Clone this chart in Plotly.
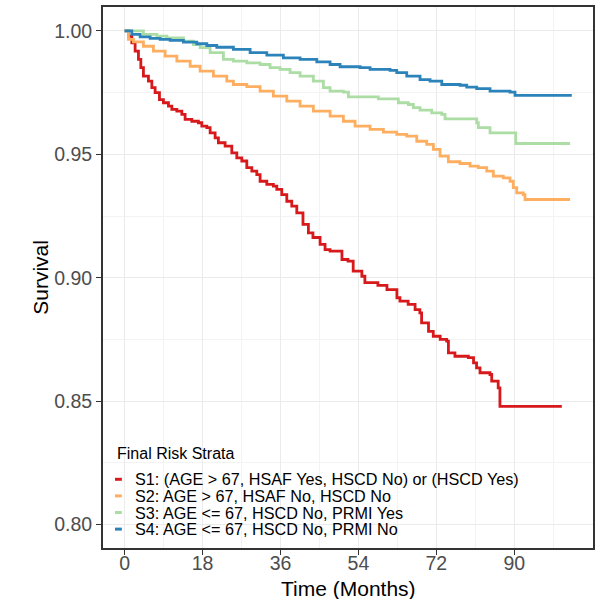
import plotly.graph_objects as go

# Kaplan-Meier estimates (months, survival)
s1_time = [0, 0.88, 1.66, 2.42, 3.19, 3.74, 4.34, 5.50, 6.28, 7.04,
           8.04, 8.96, 10.12, 10.90, 12.06, 13.21, 13.97, 15.52, 17.04, 17.83,
           18.98, 19.75, 20.90, 21.66, 23.21, 24.76, 25.91, 27.07, 28.22, 29.38,
           30.53, 31.29, 32.84, 34.36, 35.15, 36.30, 37.46, 38.61, 39.77, 41.2,
           42.45, 43.5, 45.15, 46.3, 47.46, 50.2, 51.6, 52.8, 54.8, 55.5,
           58.5, 60.6, 62.9, 63.6, 65.5, 67.1, 68.2, 68.6, 70.2, 71.3,
           72.9, 74.4, 74.8, 76.3, 79.4, 80.6, 81.3, 82.1, 84.4, 84.8,
           86.3, 86.7, 101.0]
s1_surv = [1.0, 0.9979, 0.9952, 0.9918, 0.9885, 0.9851, 0.9817, 0.9797, 0.9770, 0.9750,
           0.9722, 0.9709, 0.9695, 0.9682, 0.9675, 0.9662, 0.9642, 0.9634, 0.9628, 0.9614,
           0.9608, 0.9587, 0.9567, 0.9547, 0.9533, 0.9506, 0.9486, 0.9473, 0.9446, 0.9432,
           0.9418, 0.9391, 0.9378, 0.9371, 0.9358, 0.9337, 0.9310, 0.9290, 0.9263, 0.9216,
           0.9182, 0.9163, 0.9135, 0.9114, 0.9108, 0.9074, 0.9067, 0.9027, 0.9006, 0.8980,
           0.8969, 0.8952, 0.8919, 0.8905, 0.8892, 0.8871, 0.8858, 0.8817, 0.8783, 0.8763,
           0.8750, 0.8743, 0.8696, 0.8682, 0.8676, 0.8655, 0.8635, 0.8615, 0.8608, 0.8581,
           0.8554, 0.8479, 0.8479]

s2_time = [0, 0.88, 2.03, 4.34, 6.65, 9.35, 12.06, 15.13, 17.44, 20.51,
           23.60, 25.13, 28.22, 31.29, 34.36, 37.46, 40.53, 43.60, 47.46, 50.53,
           53.23, 56.70, 59.77, 62.86, 65.17, 67.48, 69.79, 71.32, 72.86, 74.78,
           77.48, 79.79, 81.71, 83.65, 85.17, 87.48, 89.03, 89.79, 90.58, 92.10,
           92.49, 102.9]
s2_surv = [1.0, 0.9966, 0.9956, 0.9938, 0.9918, 0.9898, 0.9878, 0.9857, 0.9837, 0.9817,
           0.9797, 0.9783, 0.9774, 0.9756, 0.9736, 0.9716, 0.9695, 0.9675, 0.9655, 0.9634,
           0.9614, 0.9601, 0.9590, 0.9581, 0.9574, 0.9553, 0.9540, 0.9520, 0.9493, 0.9470,
           0.9463, 0.9452, 0.9446, 0.9432, 0.9412, 0.9405, 0.9391, 0.9365, 0.9344, 0.9337,
           0.9317, 0.9317]

s3_time = [0, 4.34, 7.44, 9.75, 13.58, 15.89, 17.44, 19.75, 22.82, 25.13,
           28.22, 31.29, 33.60, 35.91, 38.22, 40.53, 43.60, 45.91, 47.46, 50.53,
           51.69, 58.61, 63.23, 65.54, 66.70, 68.24, 70.95, 73.26, 74.02, 81.34,
           81.71, 84.41, 90.35, 102.9]
s3_surv = [1.0, 0.9986, 0.9979, 0.9972, 0.9959, 0.9945, 0.9932, 0.9912, 0.9885, 0.9878,
           0.9871, 0.9864, 0.9851, 0.9844, 0.9831, 0.9817, 0.9797, 0.9770, 0.9756, 0.9752,
           0.9733, 0.9725, 0.9709, 0.9702, 0.9689, 0.9679, 0.9668, 0.9662, 0.9644, 0.9628,
           0.9608, 0.9587, 0.9544, 0.9544]

s4_time = [0, 1.66, 3.58, 5.89, 8.20, 10.51, 13.58, 16.67, 18.98, 21.29,
           25.13, 28.98, 32.84, 36.67, 40.53, 44.39, 47.46, 49.77, 54.39, 56.70,
           61.32, 62.86, 65.17, 68.24, 70.55, 73.26, 77.48, 79.03, 81.34, 84.41,
           89.03, 90.18, 103.3]
s4_surv = [1.0, 0.9986, 0.9976, 0.9970, 0.9966, 0.9962, 0.9955, 0.9948, 0.9941, 0.9934,
           0.9925, 0.9912, 0.9902, 0.9891, 0.9885, 0.9875, 0.9864, 0.9855, 0.9851, 0.9844,
           0.9840, 0.9831, 0.9817, 0.9803, 0.9797, 0.9783, 0.9780, 0.9772, 0.9766, 0.9756,
           0.9752, 0.9739, 0.9739]

strata_names = [
    "S1: (AGE > 67, HSAF Yes, HSCD No) or (HSCD Yes)",
    "S2: AGE > 67, HSAF No, HSCD No",
    "S3: AGE <= 67, HSCD No, PRMI Yes",
    "S4: AGE <= 67, HSCD No, PRMI No",
]
strata_colors = ["#D7191C", "#FDAE61", "#ABDDA4", "#2B83BA"]

x_ticks = [0, 18, 36, 54, 72, 90]
y_ticks = [0.80, 0.85, 0.90, 0.95, 1.00]

FONT = "Liberation Sans, Arial, sans-serif"

fig = go.Figure()
curves = [(s1_time, s1_surv), (s2_time, s2_surv), (s3_time, s3_surv), (s4_time, s4_surv)]
for (t, s), name, col in zip(curves, strata_names, strata_colors):
    fig.add_trace(go.Scatter(x=t, y=s, name=name, mode="lines",
                             line=dict(color=col, width=2.8, shape="hv")))

# ggplot style legend drawn inside the panel (bottom-left)
fig.add_shape(type="rect", xref="paper", yref="paper", x0=0.004, x1=0.918,
              y0=0.004, y1=0.205, fillcolor="white", line_width=0, layer="between")
fig.add_annotation(text="Final Risk Strata", xref="paper", yref="paper",
                   x=0.0245, y=0.175, xanchor="left", yanchor="middle", showarrow=False,
                   font=dict(family=FONT, size=16, color="black"))
row_y = 0.127
for i, (name, col) in enumerate(zip(strata_names, strata_colors)):
    yy = row_y - i * 0.0307
    fig.add_shape(type="line", xref="paper", yref="paper", x0=0.0245, x1=0.0385,
                  y0=yy, y1=yy, line=dict(color=col, width=3), layer="above")
    fig.add_annotation(text=name, xref="paper", yref="paper", x=0.0612, y=yy,
                       xanchor="left", yanchor="middle", showarrow=False,
                       font=dict(family=FONT, size=16.2, color="black"))

# axis titles
fig.add_annotation(text="Time (Months)", xref="paper", yref="paper", x=0.5, y=-0.074,
                   xanchor="center", yanchor="middle", showarrow=False,
                   font=dict(family=FONT, size=21, color="black"))
fig.add_annotation(text="Survival", xref="paper", yref="paper", x=-0.128, y=0.5,
                   xanchor="center", yanchor="middle", textangle=-90, showarrow=False,
                   font=dict(family=FONT, size=21, color="black"))

axis_common = dict(showline=True, mirror=True, linecolor="#333333", linewidth=2,
                   ticks="outside", ticklen=5, tickcolor="#333333", tickwidth=1,
                   showgrid=True, gridcolor="#EBEBEB", gridwidth=1.2, zeroline=False,
                   automargin=False,
                   tickfont=dict(family=FONT, size=19.5, color="#4D4D4D"))

fig.update_xaxes(range=[-5.0, 108.2], tickvals=x_ticks, ticklabelstandoff=-8,
                 minor=dict(tick0=9, dtick=18, showgrid=True, gridcolor="#F3F3F3", gridwidth=0.6),
                 **axis_common)
fig.update_yaxes(range=[0.7905, 1.0097], tickvals=y_ticks, tickformat=".2f",
                 minor=dict(tick0=0.825, dtick=0.05, showgrid=True, gridcolor="#F3F3F3", gridwidth=0.6),
                 **axis_common)

fig.update_layout(width=595, height=599, showlegend=False,
                  margin=dict(l=103, r=2, t=7, b=51),
                  paper_bgcolor="white", plot_bgcolor="white",
                  font=dict(family=FONT))

# drop the default page margin so the figure sits at the window's top-left
fig.write_html("out.html", config={"displayModeBar": False},
               post_script="document.body.style.margin='0px';")
